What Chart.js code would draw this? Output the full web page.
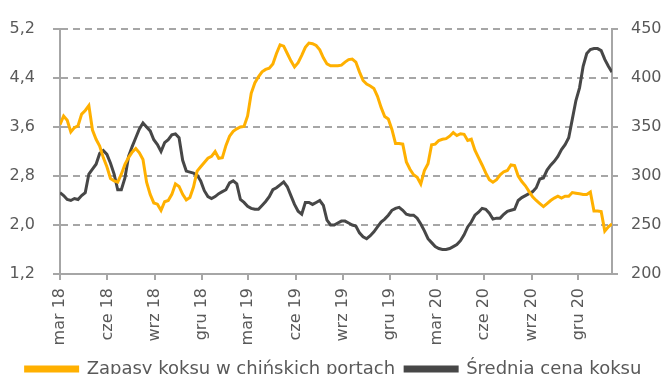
<!DOCTYPE html>
<html lang="pl">
<head>
<meta charset="utf-8">
<title>Zapasy koksu a cena</title>
<script src="https://cdn.jsdelivr.net/npm/chart.js@4.4.1/dist/chart.umd.min.js"></script>
<style>
  html, body { margin: 0; padding: 0; background: #fff; overflow: hidden; }
  #wrap { position: relative; width: 667px; height: 388px; }
</style>
</head>
<body>
<div id="wrap"><canvas id="cokeChart"></canvas></div>
<script>
// weekly observations, first week = 1 Mar 2018
const stockLabel = "Zapasy koksu w chińskich portach";
const priceLabel = "Średnia cena koksu";

// port stocks, mln t (left axis)
const stocks = [
  3.64, 3.78, 3.71, 3.52, 3.59, 3.62, 3.81, 3.87, 3.95, 3.55,
  3.40, 3.29, 3.10, 2.95, 2.76, 2.72, 2.70, 2.83, 2.99, 3.10,
  3.19, 3.25, 3.18, 3.07, 2.70, 2.50, 2.36, 2.34, 2.24, 2.38,
  2.40, 2.50, 2.67, 2.63, 2.50, 2.41, 2.45, 2.62, 2.88, 2.95,
  3.02, 3.09, 3.12, 3.20, 3.09, 3.10, 3.30, 3.45, 3.53, 3.57,
  3.60, 3.61, 3.78, 4.15, 4.32, 4.42, 4.50, 4.54, 4.56, 4.63,
  4.80, 4.94, 4.92, 4.80, 4.68, 4.58, 4.65, 4.77, 4.90, 4.97,
  4.96, 4.93, 4.86, 4.73, 4.63, 4.60, 4.60, 4.60, 4.61, 4.66,
  4.70, 4.71, 4.66, 4.50, 4.36, 4.30, 4.27, 4.23, 4.10, 3.92,
  3.77, 3.73, 3.56, 3.33, 3.33, 3.32, 3.03, 2.91, 2.82, 2.78,
  2.67, 2.89, 3.00, 3.31, 3.32, 3.38, 3.40, 3.41, 3.45, 3.51,
  3.46, 3.49, 3.48, 3.38, 3.40, 3.22, 3.10, 2.98, 2.85, 2.74,
  2.70, 2.74, 2.82, 2.87, 2.89, 2.98, 2.97, 2.80, 2.71, 2.64,
  2.55, 2.46, 2.40, 2.35, 2.30, 2.35, 2.40, 2.44, 2.47, 2.44,
  2.47, 2.47, 2.53, 2.52, 2.51, 2.50, 2.50, 2.54, 2.23, 2.23,
  2.22, 1.90, 1.97, 2.02
];

// average coke price (right axis)
const prices = [
  283, 280, 276, 275, 277, 276, 280, 283, 302, 307,
  312, 323, 326, 322, 313, 302, 286, 286, 298, 320,
  330, 339, 348, 354, 350, 346, 337, 332, 325, 334,
  337, 342, 343, 339, 316, 305, 304, 303, 301, 295,
  285, 279, 277, 279, 282, 284, 286, 293, 295, 292,
  276, 273, 269, 267, 266, 266, 270, 274, 279, 286,
  288, 291, 294, 289, 280, 271, 264, 261, 273, 273,
  271, 273, 275, 270, 255, 250, 250, 252, 254, 254,
  252, 250, 249, 242, 238, 236, 239, 243, 248, 253,
  256, 260, 265, 267, 268, 265, 261, 260, 260, 257,
  251, 244, 236, 232, 228, 226, 225, 225, 226, 228,
  230, 234, 240, 248, 253, 260, 263, 267, 266, 262,
  256, 257, 257, 261, 264, 265, 266, 275, 278, 280,
  282, 284, 288, 297, 298, 306, 311, 315, 320, 327,
  332, 339, 358, 377, 390, 412, 425, 429, 430, 430,
  428, 419, 412, 406
];

// quarter ticks, days since 1 Mar 2018
const tickDays = [0, 92, 184, 275, 365, 457, 549, 640, 731, 823, 915, 1006];
const tickLabels = ["mar 18", "cze 18", "wrz 18", "gru 18", "mar 19", "cze 19",
                    "wrz 19", "gru 19", "mar 20", "cze 20", "wrz 20", "gru 20"];

const stockTicks = [1.2, 2.0, 2.8, 3.6, 4.4, 5.2];
const priceTicks = [200, 250, 300, 350, 400, 450];

const toPoints = vals => vals.map((v, i) => ({ x: i * 7, y: v }));

const axisGrey = "#a6a6a6";
const textGrey = "#595959";
const font = { family: "'DejaVu Sans', Verdana, sans-serif", size: 16 };

new Chart(document.getElementById("cokeChart"), {
  type: "line",
  data: {
    datasets: [
      {
        label: stockLabel,
        data: toPoints(stocks),
        yAxisID: "y",
        borderColor: "#ffb000",
        backgroundColor: "#ffb000",
        borderWidth: 3,
        pointRadius: 0,
        tension: 0
      },
      {
        label: priceLabel,
        data: toPoints(prices),
        yAxisID: "y2",
        borderColor: "#474747",
        backgroundColor: "#474747",
        borderWidth: 3,
        pointRadius: 0,
        tension: 0
      }
    ]
  },
  options: {
    responsive: true,
    maintainAspectRatio: false,
    animation: false,
    layout: { padding: { top: 29, left: 0, right: 0, bottom: 0 } },
    plugins: {
      tooltip: { enabled: false },
      legend: {
        position: "bottom",
        labels: {
          color: textGrey,
          font: { family: font.family, size: 18 },
          boxWidth: 52,
          boxHeight: 4,
          padding: 10
        }
      }
    },
    scales: {
      x: {
        type: "linear",
        min: 0,
        max: (stocks.length - 1) * 7,
        afterBuildTicks: s => { s.ticks = tickDays.map(d => ({ value: d })); },
        afterFit: s => { s.height = 76; },
        ticks: {
          autoSkip: false,
          minRotation: 90,
          maxRotation: 90,
          padding: 8,
          color: textGrey,
          font: font,
          callback: v => tickLabels[tickDays.indexOf(v)]
        },
        grid: { drawOnChartArea: false, color: axisGrey, lineWidth: 2, tickLength: 6 },
        border: { color: axisGrey, width: 2 }
      },
      y: {
        position: "left",
        min: 1.2,
        max: 5.2,
        afterBuildTicks: s => { s.ticks = stockTicks.map(v => ({ value: v })); },
        afterFit: s => { s.width = 60; },
        ticks: {
          padding: 18,
          color: textGrey,
          font: font,
          callback: v => v.toFixed(1).replace(".", ",")
        },
        grid: { color: axisGrey, lineWidth: 2, tickLength: 7 },
        border: { color: axisGrey, width: 2, dash: [7, 5] }
      },
      y2: {
        position: "right",
        min: 200,
        max: 450,
        afterBuildTicks: s => { s.ticks = priceTicks.map(v => ({ value: v })); },
        afterFit: s => { s.width = 55; },
        ticks: { padding: 13, color: textGrey, font: font },
        grid: { drawOnChartArea: false, color: axisGrey, lineWidth: 2, tickLength: 6 },
        border: { color: axisGrey, width: 2 }
      }
    }
  }
});
</script>
</body>
</html>
